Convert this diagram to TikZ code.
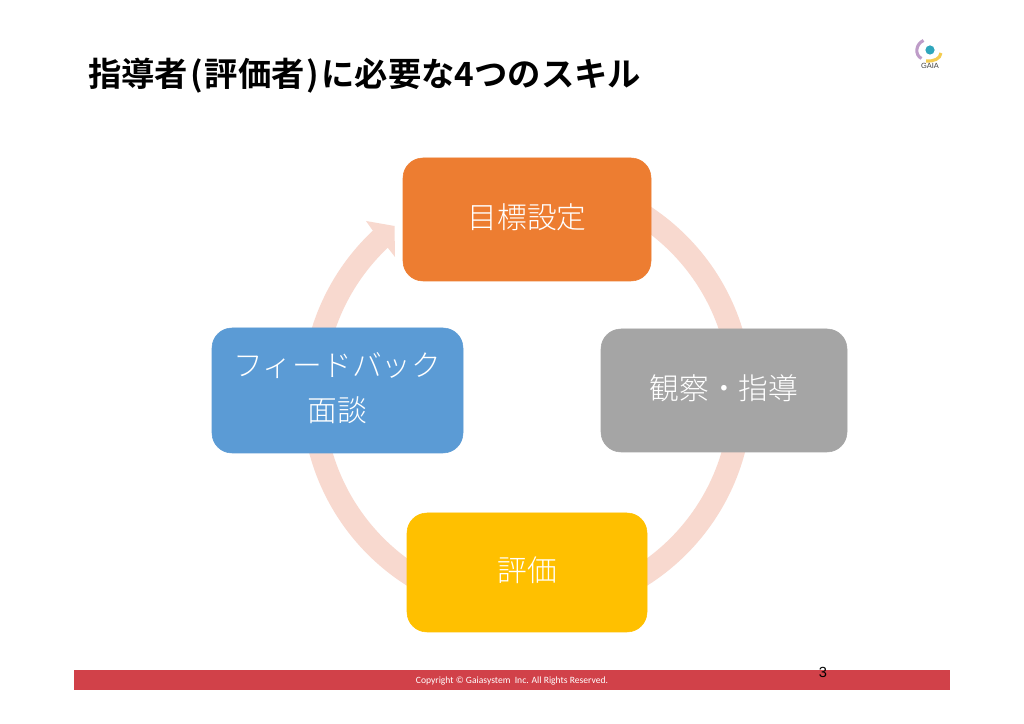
\documentclass[tikz,border=0pt]{standalone}
\usepackage{fontspec}
\setmainfont{Noto Sans CJK JP}
\newfontfamily\titlefont{Noto Sans CJK JP}[BoldFont=* Bold]
\newfontfamily\lightfont{Noto Sans CJK JP Light}
\newfontfamily\latinfoot{Carlito}
\newfontfamily\numfont{Liberation Sans}
\newcommand{\halfparen}[1]{\makebox[.5em][c]{#1}}
\definecolor{bandc}{HTML}{F8D9CF}
\definecolor{orangec}{HTML}{ED7D31}
\definecolor{greyc}{HTML}{A5A5A5}
\definecolor{yellowc}{HTML}{FFC000}
\definecolor{bluec}{HTML}{5B9BD5}
\definecolor{redc}{HTML}{D14149}
\definecolor{purplec}{HTML}{BE9CC8}
\definecolor{tealc}{HTML}{2FA6BC}
\definecolor{goldc}{HTML}{F4CC50}
\tikzset{
  x=.75pt,y=.75pt,
  band/.style={draw=bandc,line width=17pt},
  skill/.style={inner sep=0pt,align=center,text=white,
    font=\lightfont\fontsize{22.3}{34}\selectfont},
}
\begin{document}
\begin{tikzpicture}
\useasboundingbox (0,0) rectangle (1024,724);
\fill[white] (0,0) rectangle (1024,724);
% title
\node[anchor=west,inner sep=0pt,text=black,font=\titlefont\bfseries\fontsize{25}{30}\selectfont] (title) at (88,648.5) {指導者\halfparen{(}評価者\halfparen{)}に必要な4つのスキル};
% logo
\draw[purplec,line width=2.3pt] (923.5,683.5) .. controls (915.5,680) and (914.5,669) .. (921.5,665.5);
\fill[tealc] (930,674) circle (4.6);
\draw[goldc,line width=2.3pt] (941,671) .. controls (940,665) and (934,662.5) .. (926,663);
\node[inner sep=0pt,font=\numfont\fontsize{5.6}{6}\selectfont,text=black!75] (gaia) at (930,658) {GAIA};
% ring
\coordinate (c) at (527,329);
\coordinate (rt) at (527,543);
\coordinate (rr) at (741,329);
\coordinate (rb) at (527,115);
\coordinate (rl) at (313,329);
\draw[band] (rt) arc[start angle=90,end angle=0,radius=160.5pt];
\draw[band] (rr) arc[start angle=0,end angle=-90,radius=160.5pt];
\draw[band] (rb) arc[start angle=-90,end angle=-180,radius=160.5pt];
\draw[band] (rl) arc[start angle=180,end angle=133,radius=160.5pt];
\coordinate (hw1) at (366,503);
\coordinate (htip) at (394.5,498);
\coordinate (hw2) at (395,467);
\coordinate (hn1) at (372,494.5);
\coordinate (hn2) at (388,476);
\fill[bandc] (hn1) -- (hw1) -- (htip) -- (hw2) -- (hn2) -- cycle;
% boxes
\filldraw[orangec,rounded corners=15pt] (403,443) rectangle (651,566);
\node[skill] (top) at (527,507) {目標設定};
\filldraw[greyc,rounded corners=15pt] (601,272) rectangle (847,395);
\node[skill] (right) at (724,336) {観察・指導};
\filldraw[yellowc,rounded corners=15pt] (407,92) rectangle (647,211);
\node[skill] (bottom) at (527,154) {評価};
\filldraw[bluec,rounded corners=15pt] (212,271) rectangle (463,396);
\node[skill] (left) at (337.5,336) {フィードバック\\面談};
% footer
\fill[redc] (74,34) rectangle (950,54);
\node[inner sep=0pt,text=white,font=\latinfoot\fontsize{7.2}{8}\selectfont] (copy) at (512,43.5) {Copyright © Gaiasystem\ \ Inc. All Rights Reserved.};
\node[inner sep=0pt,text=black,font=\numfont\fontsize{11}{12}\selectfont] (page) at (823,52) {3};
\end{tikzpicture}
\end{document}
